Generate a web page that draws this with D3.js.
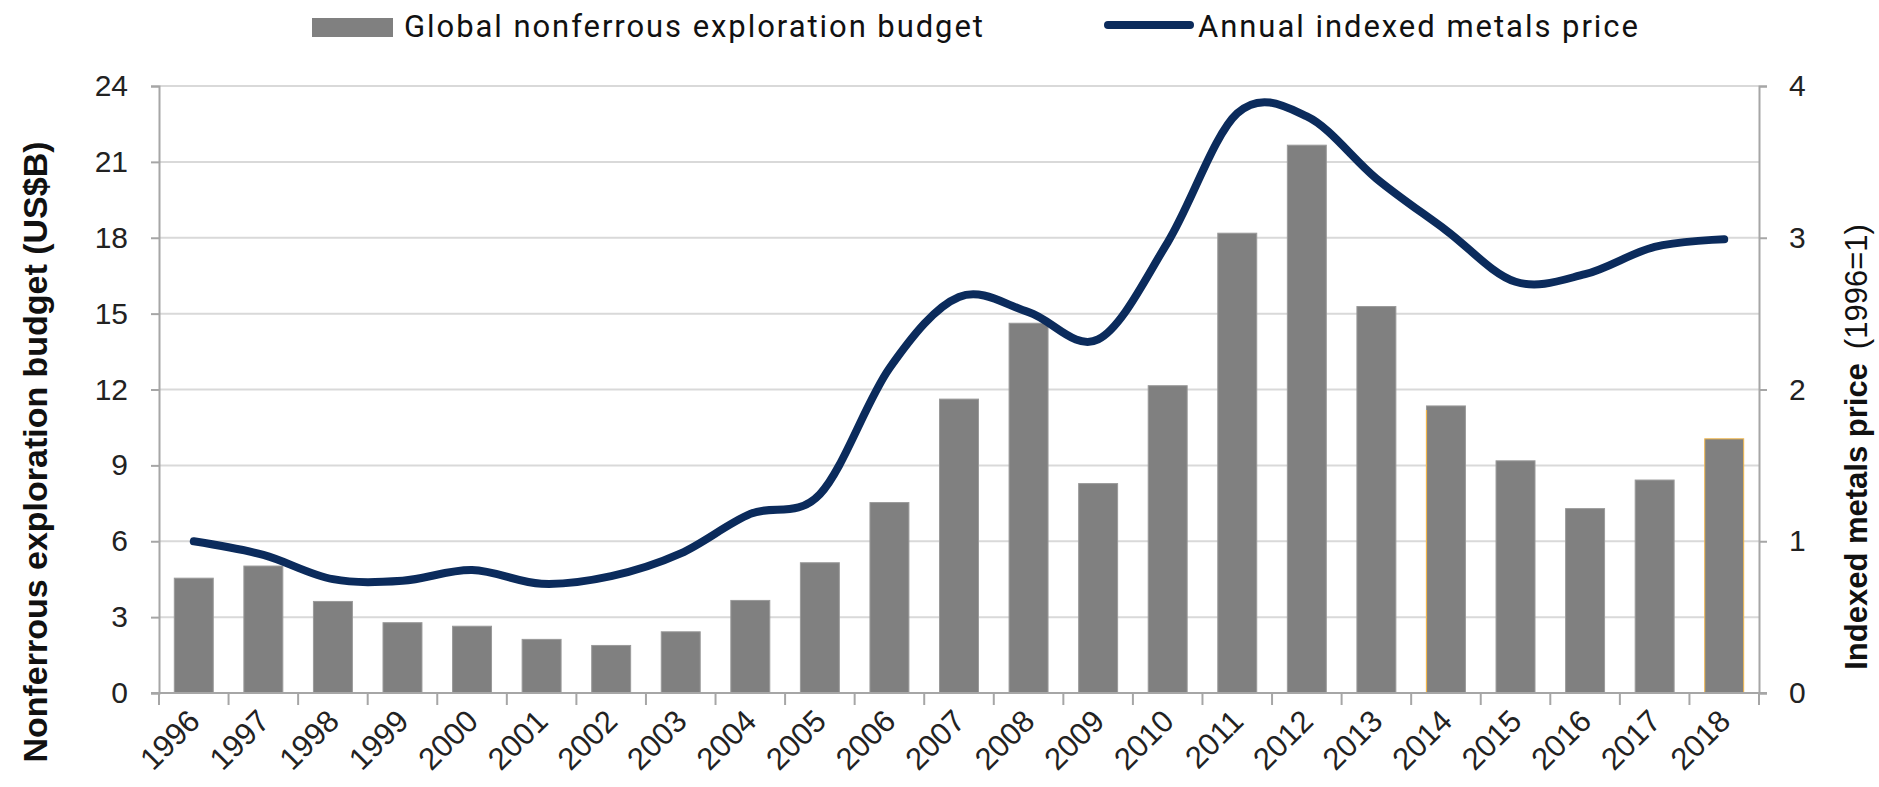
<!DOCTYPE html>
<html>
<head>
<meta charset="utf-8">
<script src="https://cdn.jsdelivr.net/npm/d3@7"></script>
<style>
  html, body { margin: 0; padding: 0; background: #ffffff; }
  svg { display: block; }
</style>
</head>
<body>
<svg id="chart" width="1879" height="787"></svg>
<script>
// ---- data ----
const years = ["1996","1997","1998","1999","2000","2001","2002","2003","2004","2005","2006","2007","2008","2009","2010","2011","2012","2013","2014","2015","2016","2017","2018"];
const budget = [4.54, 5.02, 3.62, 2.78, 2.64, 2.12, 1.88, 2.42, 3.66, 5.15, 7.53, 11.62, 14.62, 8.28, 12.15, 18.18, 21.66, 15.28, 11.35, 9.18, 7.29, 8.42, 10.05];
const price = [1.00, 0.91, 0.75, 0.74, 0.81, 0.72, 0.77, 0.92, 1.18, 1.31, 2.14, 2.61, 2.51, 2.33, 2.97, 3.82, 3.80, 3.39, 3.05, 2.71, 2.76, 2.94, 2.99];
const leftTicks = [0, 3, 6, 9, 12, 15, 18, 21, 24];
const rightTicks = [0, 1, 2, 3, 4];
const legendLabels = ["Global nonferrous exploration budget", "Annual indexed metals price"];
const leftTitle = "Nonferrous exploration budget (US$B)";
const rightTitleBold = "Indexed metals price";
const rightTitleRest = "(1996=1)";

// ---- layout ----
const X0 = 159, X1 = 1759, Y0 = 693, Y1 = 86;
const svg = d3.select("#chart");

const xOuter = d3.scaleBand().domain(years).range([X0, X1]).padding(0);
const xBar = d3.scaleBand().domain(years).range([X0, X1]).paddingInner(0.44).paddingOuter(0.22);
const yL = d3.scaleLinear().domain([0, 24]).range([Y0, Y1]);
const yR = d3.scaleLinear().domain([0, 4]).range([Y0, Y1]);

const gridColor = "#d9d9d9", axisColor = "#a6a6a6", barColor = "#808080", lineColor = "#0b2b5c";

// gridlines
svg.append("g").selectAll("line").data(leftTicks.filter(d => d > 0)).join("line")
  .attr("x1", X0).attr("x2", X1)
  .attr("y1", d => yL(d)).attr("y2", d => yL(d))
  .attr("stroke", gridColor).attr("stroke-width", 2);

// bars
svg.append("g").selectAll("rect").data(years).join("rect")
  .attr("x", d => xBar(d))
  .attr("width", xBar.bandwidth())
  .attr("y", (d, i) => yL(budget[i]))
  .attr("height", (d, i) => yL(0) - yL(budget[i]))
  .attr("fill", barColor)
  .attr("stroke", (d) => d === "2018" ? "#f2b64a" : "#9a9a9a")
  .attr("stroke-width", 1);

// orange left edge on 2014
svg.append("line")
  .attr("x1", xBar("2014")).attr("x2", xBar("2014"))
  .attr("y1", yL(budget[years.indexOf("2014")]) + 4).attr("y2", yL(0))
  .attr("stroke", "#f2b64a").attr("stroke-width", 1.2);

// left axis
const gL = svg.append("g").attr("transform", `translate(${X0},0)`)
  .call(d3.axisLeft(yL).tickValues(leftTicks).tickSize(8).tickPadding(23).tickFormat(d3.format("d")));
gL.select(".domain").attr("stroke", axisColor).attr("stroke-width", 2);
gL.selectAll(".tick line").attr("stroke", axisColor).attr("stroke-width", 2);
gL.selectAll(".tick text").attr("font-family", "'Liberation Sans', Arial, sans-serif")
  .attr("font-size", 30).attr("fill", "#222");

// right axis
const gR = svg.append("g").attr("transform", `translate(${X1},0)`)
  .call(d3.axisRight(yR).tickValues(rightTicks).tickSize(8).tickPadding(22).tickFormat(d3.format("d")));
gR.select(".domain").attr("stroke", axisColor).attr("stroke-width", 2);
gR.selectAll(".tick line").attr("stroke", axisColor).attr("stroke-width", 2);
gR.selectAll(".tick text").attr("font-family", "'Liberation Sans', Arial, sans-serif")
  .attr("font-size", 30).attr("fill", "#222");

// bottom axis line
svg.append("line").attr("x1", X0 - 8).attr("x2", X1 + 8).attr("y1", Y0).attr("y2", Y0)
  .attr("stroke", axisColor).attr("stroke-width", 2);
// category boundary ticks
const bounds = years.map(d => xOuter(d)).concat([X1]);
svg.append("g").selectAll("line").data(bounds).join("line")
  .attr("x1", d => d).attr("x2", d => d).attr("y1", Y0).attr("y2", Y0 + 12)
  .attr("stroke", axisColor).attr("stroke-width", 2);

// x labels
svg.append("g").selectAll("text").data(years).join("text")
  .attr("transform", d => `translate(${xOuter(d) + xOuter.bandwidth() / 2 + 8},${Y0 + 30}) rotate(-45)`)
  .attr("text-anchor", "end")
  .attr("font-family", "'Liberation Sans', Arial, sans-serif")
  .attr("font-size", 31).attr("fill", "#222")
  .text(d => d);

// price line
const line = d3.line()
  .x((d, i) => xBar(years[i]) + xBar.bandwidth() / 2)
  .y(d => yR(d))
  .curve(d3.curveCardinal.tension(0));
svg.append("path").datum(price)
  .attr("d", line)
  .attr("fill", "none").attr("stroke", lineColor).attr("stroke-width", 8)
  .attr("stroke-linecap", "round").attr("stroke-linejoin", "round");

// legend
svg.append("rect").attr("x", 312).attr("y", 18).attr("width", 81).attr("height", 19).attr("fill", barColor);
svg.append("text").attr("x", 404).attr("y", 37)
  .attr("font-family", "Roboto, 'Liberation Sans', sans-serif").attr("font-size", 31).attr("fill", "#111")
  .attr("textLength", 579).attr("lengthAdjust", "spacing")
  .text(legendLabels[0]);
svg.append("line").attr("x1", 1108).attr("x2", 1190).attr("y1", 25).attr("y2", 25)
  .attr("stroke", lineColor).attr("stroke-width", 8).attr("stroke-linecap", "round");
svg.append("text").attr("x", 1198).attr("y", 37)
  .attr("font-family", "Roboto, 'Liberation Sans', sans-serif").attr("font-size", 31).attr("fill", "#111")
  .attr("textLength", 440).attr("lengthAdjust", "spacing")
  .text(legendLabels[1]);

// axis titles
svg.append("text")
  .attr("transform", `translate(47,452) rotate(-90)`)
  .attr("text-anchor", "middle")
  .attr("font-family", "'Liberation Sans', Arial, sans-serif").attr("font-weight", "bold")
  .attr("font-size", 33).attr("fill", "#111")
  .attr("textLength", 621).attr("lengthAdjust", "spacingAndGlyphs")
  .text(leftTitle);

const rt = svg.append("text")
  .attr("transform", `translate(1867,447) rotate(-90)`)
  .attr("text-anchor", "middle")
  .attr("font-family", "'Liberation Sans', Arial, sans-serif")
  .attr("font-size", 31).attr("fill", "#111");
rt.append("tspan").attr("font-weight", "bold").text(rightTitleBold);
rt.append("tspan").attr("dx", 14).text(rightTitleRest);
</script>
</body>
</html>
